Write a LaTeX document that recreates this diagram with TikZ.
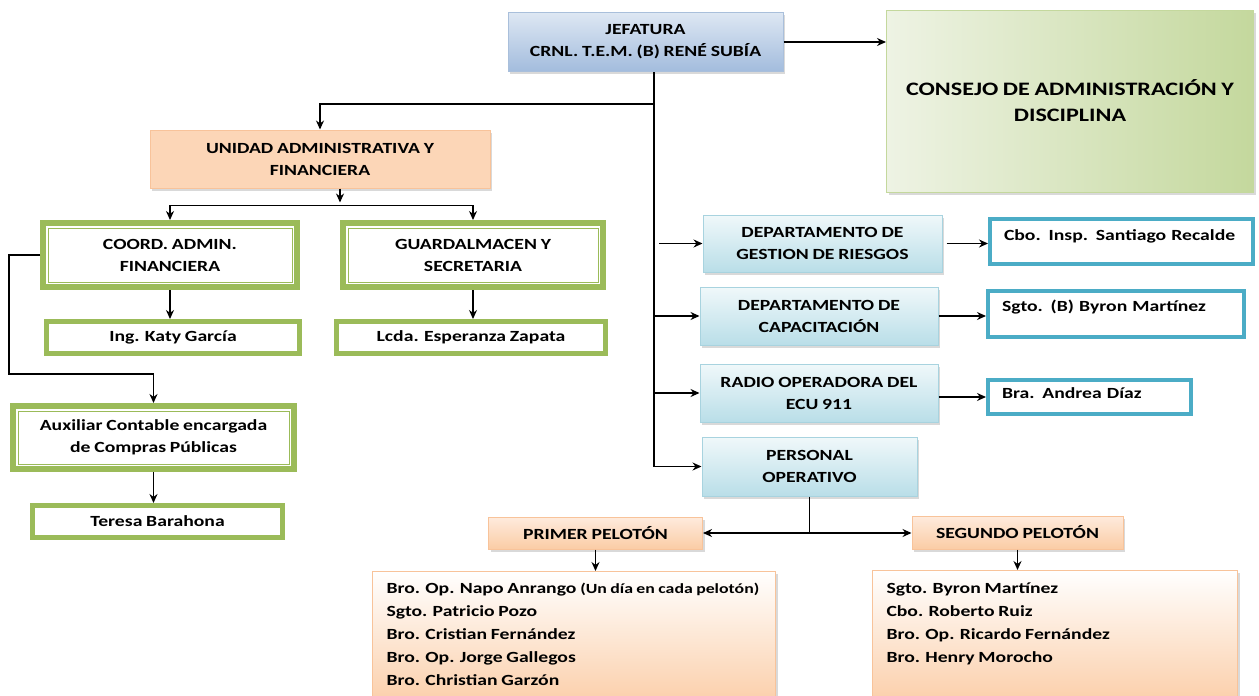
\documentclass[tikz,border=0pt]{standalone}
\usepackage{fontspec}
\setmainfont{Carlito}[FakeStretch=1.27, WordSpace=0.85]
\usepackage{xcolor}
\usepackage{tikz}
\usetikzlibrary{positioning,shadows,arrows.meta}

\definecolor{azulclaro}{HTML}{DEE7F3}
\definecolor{azuloscuro}{HTML}{A2BCDD}
\definecolor{azulborde}{HTML}{A9BFDB}
\definecolor{celesteclaro}{HTML}{F0F8FA}
\definecolor{celesteoscuro}{HTML}{B9DEE8}
\definecolor{celesteborde}{HTML}{A8D3DF}
\definecolor{naranjaclaro}{HTML}{FEEBDD}
\definecolor{naranjaoscuro}{HTML}{FBCCA5}
\definecolor{naranjaborde}{HTML}{F8C39A}
\definecolor{verde}{HTML}{9BBB59}
\definecolor{verdeclaro}{HTML}{EEF3E4}
\definecolor{verdeoscuro}{HTML}{C4D89D}
\definecolor{cian}{HTML}{4BACC6}

\begin{document}
\begin{tikzpicture}[x=1pt, y=-1pt, font=\fontsize{15.5}{22}\selectfont\bfseries,
	sombra/.style={drop shadow={shadow xshift=2pt, shadow yshift=-2.5pt, opacity=0.3}},
	cajaazul/.style={draw=azulborde, line width=1pt, top color=azulclaro, bottom color=azuloscuro, sombra, align=center},
	cajaceleste/.style={draw=celesteborde, line width=1pt, top color=celesteclaro, bottom color=celesteoscuro, sombra, align=center},
	cajanaranja/.style={draw=naranjaborde, line width=1pt, top color=naranjaclaro, bottom color=naranjaoscuro, sombra, align=center},
	cajaverde/.style={draw=verde, line width=5pt, fill=white, align=center},
	cajadoble/.style={cajaverde, line width=6pt, path picture={\draw[verde, line width=1pt] ([shift={(5pt,-5pt)}]path picture bounding box.north west) rectangle ([shift={(-5pt,5pt)}]path picture bounding box.south east);}},
	cajacian/.style={draw=cian, line width=4pt, fill=white, align=left, inner xsep=14pt},
	lista/.style={draw=naranjaborde, line width=1pt, top color=white, bottom color=naranjaoscuro, sombra, inner xsep=14pt, inner ysep=12pt, anchor=north west},
	flecha/.style={-{Stealth[length=9pt, width=8pt]}, line width=1.4pt}]

		\path[use as bounding box] (0,0) rectangle (1259,696);

		\node[cajaazul, minimum width=275pt, minimum height=59pt] (jef) at (645.5,42) {JEFATURA\\CRNL. T.E.M. (B) RENÉ SUBÍA};
		\node[draw=verdeoscuro, line width=1pt, left color=verdeclaro, right color=verdeoscuro, sombra, align=center, minimum width=367pt, minimum height=182pt, font=\fontsize{19}{26}\selectfont\bfseries] (consejo) at (1070,101) {CONSEJO DE ADMINISTRACIÓN Y\\DISCIPLINA};

		\node[cajanaranja, top color=naranjaoscuro!80, middle color=naranjaclaro, bottom color=naranjaoscuro!80, minimum width=340pt, minimum height=58pt] (unidad) at (320,159) {UNIDAD ADMINISTRATIVA Y\\FINANCIERA};
		\node[cajadoble, minimum width=254pt, minimum height=64pt] (coord) at (170,255) {COORD. ADMIN.\\FINANCIERA};
		\node[cajadoble, minimum width=260pt, minimum height=64pt] (guard) at (473,255) {GUARDALMACEN Y\\SECRETARIA};
		\node[cajaverde, minimum width=253pt, minimum height=32pt] (katy) at (173,337.5) {Ing. Katy García};
		\node[cajaverde, minimum width=269pt, minimum height=32pt] (lcda) at (471,337.5) {Lcda. Esperanza Zapata};
		\node[cajadoble, minimum width=281pt, minimum height=63pt] (aux) at (153.5,437.5) {Auxiliar Contable encargada\\de Compras Públicas};
		\node[cajaverde, minimum width=250pt, minimum height=32pt] (teresa) at (157.5,521.5) {Teresa Barahona};

		\node[cajaceleste, minimum width=239pt, minimum height=57pt] (gestion) at (822.5,243.5) {DEPARTAMENTO DE\\GESTION DE RIESGOS};
		\node[cajaceleste, minimum width=238pt, minimum height=58pt] (capac) at (819,316) {DEPARTAMENTO DE\\CAPACITACIÓN};
		\node[cajaceleste, minimum width=238pt, minimum height=58pt] (radio) at (819,393) {RADIO OPERADORA DEL\\ECU 911};
		\node[cajaceleste, minimum width=215pt, minimum height=59pt] (personal) at (809.5,466.5) {PERSONAL\\OPERATIVO};

		\node[cajacian, text width=235pt, minimum height=45pt, text depth=13pt] (cbo) at (1121.5,241.5) {Cbo. Insp. Santiago Recalde};
		\node[cajacian, text width=228pt, minimum height=46pt, text depth=17pt] (sgtob) at (1116,314) {Sgto. (B) Byron Martínez};
		\node[cajacian, text width=175pt, minimum height=34pt, text depth=7pt] (bra) at (1089.5,397) {Bra. Andrea Díaz};

		\node[cajanaranja, minimum width=214pt, minimum height=32pt] (primer) at (595.5,533) {PRIMER PELOTÓN};
		\node[cajanaranja, minimum width=211pt, minimum height=33pt] (segundo) at (1017.5,532.5) {SEGUNDO PELOTÓN};

		\node[lista] (lista1) at (372,571) {\parbox[t][115pt][t]{375pt}{\fontsize{15.5}{23}\selectfont
			\mbox{Bro. Op. Napo Anrango {\fontsize{14}{23}\selectfont(Un día en cada pelotón)}}\\
			Sgto. Patricio Pozo\\
			Bro. Cristian Fernández\\
			Bro. Op. Jorge Gallegos\\
			Bro. Christian Garzón}};
		\node[lista] (lista2) at (872,570) {\parbox[t][115pt][t]{337pt}{\fontsize{15.5}{23}\selectfont
			Sgto. Byron Martínez\\
			Cbo. Roberto Ruiz\\
			Bro. Op. Ricardo Fernández\\
			Bro. Henry Morocho}};

		\coordinate (tronco) at ([xshift=8.5pt]jef.south);
		\coordinate (reparto) at ([xshift=20pt, yshift=-17pt]unidad.south);

		\draw[flecha] (jef.east) -- (jef.east -| consejo.west);
		\draw[flecha] (tronco) |- (personal.west);
		\draw[flecha] ([yshift=-32pt]tronco) -| (unidad.north);
		\draw[flecha] ([xshift=5pt]tronco |- gestion.west) -- (gestion.west);
		\draw[flecha] (tronco |- capac.west) -- (capac.west);
		\draw[flecha] (tronco |- radio.west) -- (radio.west);

		\draw[flecha] ([xshift=20pt]unidad.south) -- ([yshift=3pt]reparto);
		\draw[flecha] (reparto) -| (coord.north);
		\draw[flecha] (reparto) -| (guard.north);
		\draw[flecha] (coord.south) -- (coord.south |- katy.north);
		\draw[flecha] (guard.south) -- (guard.south |- lcda.north);
		\draw[flecha] (coord.west) -- ++(-31,0) |- ([yshift=29pt]aux.north) -- (aux.north);
		\draw[flecha] (aux.south) -- (aux.south |- teresa.north);

		\draw[flecha, shorten <=4pt] (gestion.east) -- (gestion.east -| cbo.west);
		\draw[flecha] (capac.east) -- (capac.east -| sgtob.west);
		\draw[flecha] (radio.east |- bra.west) -- (bra.west);

		\draw[line width=1.4pt] (personal.south) -- (personal.south |- primer.east);
		\draw[{Stealth[length=9pt, width=8pt]}-{Stealth[length=9pt, width=8pt]}, line width=1.4pt] (primer.east) -- (primer.east -| segundo.west);
		\draw[flecha] (primer.south) -- (primer.south |- lista1.north);
		\draw[flecha] (segundo.south) -- (segundo.south |- lista2.north);
	\end{tikzpicture}
\end{document}
